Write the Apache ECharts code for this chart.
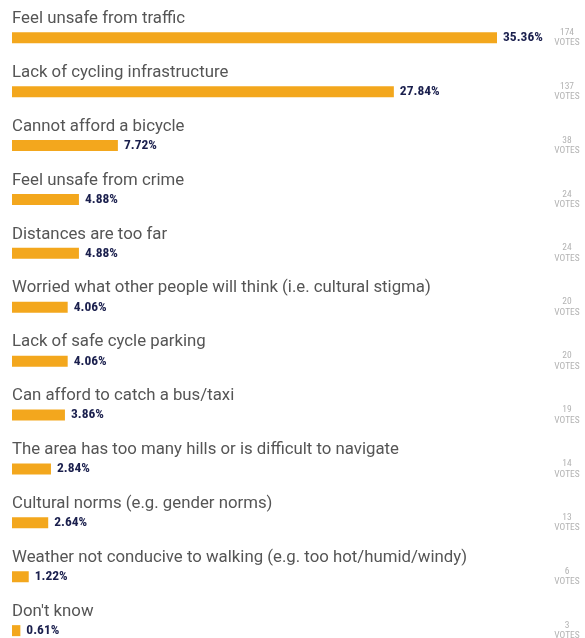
<!DOCTYPE html>
<html>
<head>
<meta charset="utf-8">
<script src="https://cdn.jsdelivr.net/npm/echarts@6/dist/echarts.min.js"></script>
<style>
  html, body { margin: 0; padding: 0; background: #fff; }
  #chart { width: 585px; height: 638px; }
</style>
</head>
<body>
<div id="chart"></div>
<script>
// survey answers, top to bottom
var categories = [
  'Feel unsafe from traffic',
  'Lack of cycling infrastructure',
  'Cannot afford a bicycle',
  'Feel unsafe from crime',
  'Distances are too far',
  'Worried what other people will think (i.e. cultural stigma)',
  'Lack of safe cycle parking',
  'Can afford to catch a bus/taxi',
  'The area has too many hills or is difficult to navigate',
  'Cultural norms (e.g. gender norms)',
  'Weather not conducive to walking (e.g. too hot/humid/windy)',
  "Don't know"
];
var percents = [35.36, 27.84, 7.72, 4.88, 4.88, 4.06, 4.06, 3.86, 2.84, 2.64, 1.22, 0.61];
var votes = [174, 137, 38, 24, 24, 20, 20, 19, 14, 13, 6, 3];

var narrow = '"Roboto Condensed", "Liberation Sans Narrow", "DejaVu Sans Condensed", sans-serif';

var chart = echarts.init(document.getElementById('chart'));

chart.setOption({
  animation: false,
  grid: { left: 12, top: 10.8, width: 485, height: 646.8, outerBoundsMode: 'none', containLabel: false },
  xAxis: { type: 'value', min: 0, max: 35.36, show: false },
  yAxis: [
    {
      type: 'category',
      data: categories,
      inverse: true,
      axisLine: { show: false },
      axisTick: { show: false },
      axisLabel: {
        inside: true,
        margin: 0,
        interval: 0,
        align: 'left',
        verticalAlign: 'bottom',
        lineHeight: 20,
        padding: [0, 0, 9, 0],
        fontFamily: 'Roboto',
        fontSize: 16.8,
        color: '#555555'
      }
    },
    {
      // votes column on the right
      type: 'category',
      data: categories,
      inverse: true,
      position: 'right',
      axisLine: { show: false },
      axisTick: { show: false },
      axisLabel: {
        margin: 70,
        interval: 0,
        align: 'center',
        verticalAlign: 'middle',
        lineHeight: 10.5,
        padding: [0, 0, 8, 0],
        fontFamily: narrow,
        fontSize: 9.5,
        color: '#b3b3b3',
        formatter: function (v, i) {
          return votes[i] + '\nVOTES';
        }
      }
    }
  ],
  series: [
    {
      type: 'bar',
      data: percents,
      barWidth: 11,
      itemStyle: { color: '#f3a71d' },
      label: {
        show: true,
        position: 'right',
        distance: 6,
        fontFamily: narrow,
        fontWeight: 'bold',
        fontSize: 13.5,
        color: '#1a1f4d',
        formatter: function (p) {
          return p.value.toFixed(2) + '%';
        }
      }
    }
  ]
});
</script>
</body>
</html>
